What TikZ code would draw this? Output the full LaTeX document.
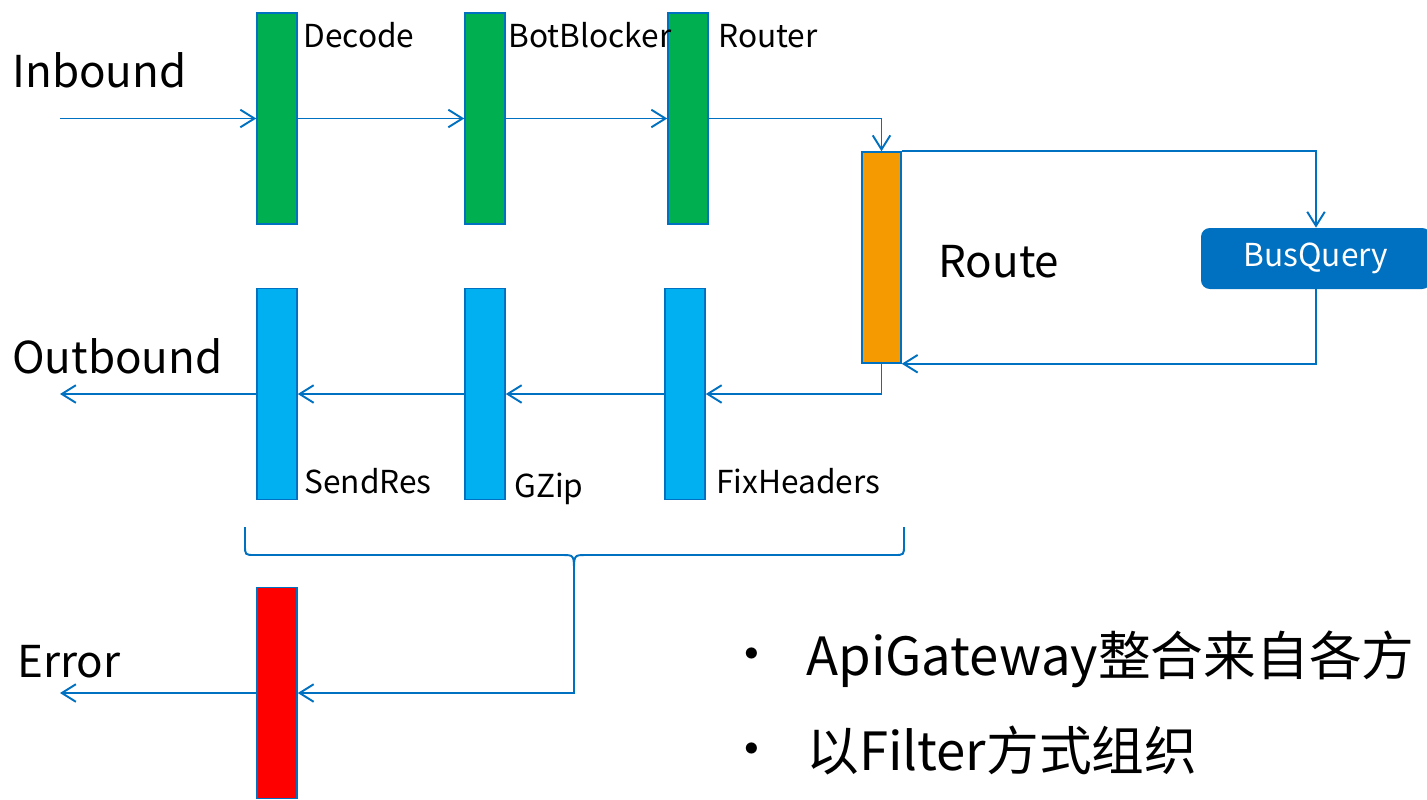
\documentclass[tikz,border=0pt]{standalone}
\usepackage{fontspec}
\setmainfont{Noto Sans CJK SC}
\usetikzlibrary{arrows.meta}
\definecolor{linkblue}{HTML}{0070C0}
\definecolor{inbar}{HTML}{00B050}
\definecolor{outbar}{HTML}{00B0F0}
\definecolor{routebar}{HTML}{F59A00}
\definecolor{errbar}{HTML}{FF0000}
\tikzset{
  filterbar/.style={draw=linkblue, line width=.9pt, minimum width=.8cm, minimum height=4.22cm, inner sep=0pt},
  link/.style={linkblue, line width=1.1pt, -{Straight Barb[length=8pt,width=10pt]}},
  tag/.style={anchor=base west, inner sep=0pt, font=\fontsize{18}{21}\selectfont},
  title/.style={anchor=base west, inner sep=0pt, font=\fontsize{25}{30}\selectfont},
  point/.style={anchor=base west, inner sep=0pt, font=\fontsize{30}{36}\selectfont},
}
\begin{document}
\begin{tikzpicture}[x=.02cm,y=-.02cm]
\useasboundingbox (0,0) rectangle (1427,799);
\node [filterbar, fill=inbar] (decode) at (277,118.5) {};
\node [filterbar, fill=inbar] (botblocker) at (485,118.5) {};
\node [filterbar, fill=inbar] (router) at (688,118.5) {};
\node [filterbar, fill=routebar, minimum width=.78cm] (route) at (881.5,257.5) {};
\node [fill=linkblue, text=white, rounded corners=5pt, minimum width=4.6cm, minimum height=1.22cm, font=\fontsize{18}{21}\selectfont] (busquery) at (1316,258.5) {BusQuery};
\node [filterbar, fill=outbar] (sendres) at (277,394) {};
\node [filterbar, fill=outbar] (gzip) at (485,394) {};
\node [filterbar, fill=outbar] (fixheaders) at (685,394) {};
\node [filterbar, fill=errbar] (error) at (277,693) {};

\node [tag] at (303,47) {Decode};
\node [tag] at (508,47) {BotBlocker};
\node [tag] at (718,47) {Router};
\node [tag] at (304,493) {SendRes};
\node [tag] at (514,497) {GZip};
\node [tag] at (716,493) {FixHeaders};
\node [title] at (938,277) {Route};
\node [title] at (12,87) {Inbound};
\node [title] at (12,373) {Outbound};
\node [title] at (17,677) {Error};

\coordinate (inbound) at (60,118.5);
\coordinate (outbound) at (60,394);
\coordinate (errout) at (60,693);
\draw [link] (inbound) -- (decode.west);
\draw [link] (decode.east) -- (botblocker.west);
\draw [link] (botblocker.east) -- (router.west);
\draw [link] (router.east) -| (route.north);
\draw [link] (route.north east) -| (busquery.north);
\draw [link] (busquery.south) |- (route.south east);
\draw [link] (route.south) |- (fixheaders.east);
\draw [link] (fixheaders.west) -- (gzip.east);
\draw [link] (gzip.west) -- (sendres.east);
\draw [link] (sendres.west) -- (outbound);

\coordinate (bl) at (245,527);
\coordinate (br) at (904,527);
\coordinate (bm) at (574,572);
\draw [linkblue, line width=1.1pt] (bl) -- (245,545) .. controls (245,555) .. (255,555) -- (562,555) .. controls (574,555) .. (bm);
\draw [linkblue, line width=1.1pt] (br) -- (904,545) .. controls (904,555) .. (894,555) -- (586,555) .. controls (574,555) .. (bm);
\draw [link] (bm) |- (error.east);
\draw [link] (error.west) -- (errout);

\node [font=\fontsize{30}{36}\selectfont, inner sep=0pt] (dot1) at (752,661) {•};
\node [font=\fontsize{30}{36}\selectfont, inner sep=0pt] (dot2) at (752,756) {•};
\node [point] at (806,675) {ApiGateway整合来自各方};
\node [point] at (806,770) {以Filter方式组织};
\end{tikzpicture}
\end{document}
